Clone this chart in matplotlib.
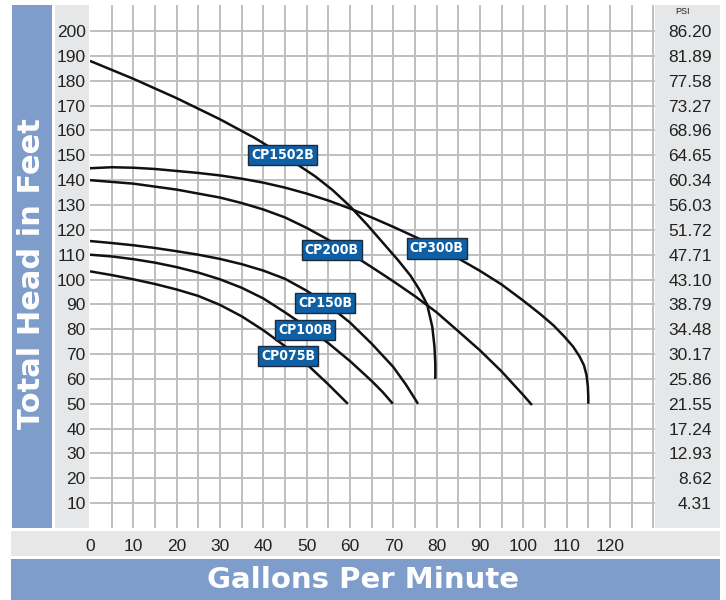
import matplotlib
matplotlib.use("Agg")
import matplotlib.pyplot as plt
from matplotlib.patches import Rectangle

# pump curves: flow (GPM) vs total head (ft)
cp1502b_gpm = [0, 10, 20, 30, 38, 46, 52, 56, 60, 64, 68, 71, 74, 76, 77.8, 79, 79.5, 79.7, 79.7]
cp1502b_ft = [188, 180.8, 173, 164.5, 157, 148.5, 141.5, 136, 129.5, 122, 114, 108, 101.5, 96, 90, 81, 73, 66, 60]

cp300b_gpm = [0, 5, 10, 15, 20, 25, 30, 35, 40, 45, 50, 55, 60, 65, 70, 75, 80, 85, 90, 95, 100,
              104, 107, 109.5, 111.5, 113, 114, 114.6, 114.9, 115, 115]
cp300b_ft = [144.8, 145.2, 145.0, 144.5, 143.7, 142.9, 141.9, 140.6, 139, 137, 134.6, 131.8, 128.6,
             125, 121.2, 117.2, 113, 108.5, 103.5, 98, 91.5, 86, 81.5, 77, 73, 69, 65.5, 61.5, 57, 53, 50]

cp200b_gpm = [0, 10, 20, 30, 35, 40, 45, 50, 55, 60, 65, 70, 75, 80, 85, 90, 95, 100, 102]
cp200b_ft = [140, 138.6, 136.2, 133, 130.8, 128.2, 125, 120.8, 116, 110.6, 105, 99.3, 93.3, 86.8,
             79.2, 71.5, 63, 53.5, 49.5]

cp150b_gpm = [0, 5, 10, 15, 20, 25, 30, 35, 40, 45, 50, 55, 60, 63, 65, 70, 73, 75.7]
cp150b_ft = [115.5, 114.7, 113.8, 112.7, 111.4, 110, 108.3, 106.2, 103.6, 100.3, 95.5, 89.7, 82.7,
             77.6, 74.2, 64.8, 57.5, 50]

cp100b_gpm = [0, 5, 10, 15, 20, 25, 30, 35, 40, 45, 50, 55, 60, 65, 67.5, 69.9]
cp100b_ft = [110, 109.3, 108.2, 106.8, 105, 102.8, 100.1, 96.7, 92.4, 86.8, 80.9, 74.4, 67.2, 59.2, 54.8, 50]

cp075b_gpm = [0, 5, 10, 15, 20, 25, 30, 35, 40, 45, 50, 55, 59.5]
cp075b_ft = [103.3, 101.8, 100.1, 98.2, 96, 93.4, 89.8, 85.2, 79.6, 73.2, 66, 57.8, 50]

pump_names = ["CP1502B", "CP300B", "CP200B", "CP150B", "CP100B", "CP075B"]

x_ticks = [0, 10, 20, 30, 40, 50, 60, 70, 80, 90, 100, 110, 120]
y_ticks = [10, 20, 30, 40, 50, 60, 70, 80, 90, 100, 110, 120, 130, 140, 150, 160, 170, 180, 190, 200]
psi_labels = ["4.31", "8.62", "12.93", "17.24", "21.55", "25.86", "30.17", "34.48", "38.79", "43.10",
              "47.71", "51.72", "56.03", "60.34", "64.65", "68.96", "73.27", "77.58", "81.89", "86.20"]

BAND = "#7f9dcb"
PANEL = "#e6e7e8"
W, H = 726, 600

fig = plt.figure(figsize=(W / 100, H / 100), dpi=100)
fig.patch.set_facecolor("white")


def box(x0, y0, x1, y1, color):
    # pixel coords measured from the top-left corner
    fig.add_artist(Rectangle((x0 / W, 1 - y1 / H), (x1 - x0) / W, (y1 - y0) / H,
                             transform=fig.transFigure, facecolor=color, edgecolor="none", zorder=0))


box(12, 5, 52, 528, BAND)
box(55, 5, 89, 528, PANEL)
box(655, 5, 720, 528, PANEL)
box(11, 531, 720, 556, PANEL)
box(11, 559, 720, 600, BAND)

ax = fig.add_axes([90 / W, 1 - 528 / H, (655 - 90) / W, (528 - 5) / H])
ax.set_xlim(0, 130.4)
ax.set_ylim(0, 210.5)
for s in ax.spines.values():
    s.set_visible(False)

# grid: every 5 GPM and every 10 ft
for gx in range(5, 131, 5):
    ax.axvline(gx, color="#bfbfbf", linewidth=1.4, zorder=1)
for gy in y_ticks:
    ax.axhline(gy, color="#bfbfbf", linewidth=1.4, zorder=1)

tick_font = dict(family=["Liberation Sans", "DejaVu Sans"], size=12.5, color="#222222")
ax.set_xticks(x_ticks)
ax.set_xticklabels([str(v) for v in x_ticks], **tick_font)
ax.set_yticks(y_ticks)
ax.set_yticklabels([str(v) for v in y_ticks], **tick_font)
ax.tick_params(which="both", length=0)
ax.tick_params(axis="x", pad=8)
ax.tick_params(axis="y", pad=3)

ax2 = ax.twinx()
ax2.set_ylim(ax.get_ylim())
for s in ax2.spines.values():
    s.set_visible(False)
ax2.set_yticks(y_ticks)
ax2.set_yticklabels(psi_labels, **tick_font)
ax2.tick_params(length=0, pad=41)
for t in ax2.get_yticklabels():
    t.set_horizontalalignment("right")

curves = [(cp1502b_gpm, cp1502b_ft), (cp300b_gpm, cp300b_ft), (cp200b_gpm, cp200b_ft),
          (cp150b_gpm, cp150b_ft), (cp100b_gpm, cp100b_ft), (cp075b_gpm, cp075b_ft)]
for gpm, ft in curves:
    ax.plot(gpm, ft, color="#111111", linewidth=1.8, solid_capstyle="butt",
            solid_joinstyle="round", zorder=3)

label_at = [(44.5, 150), (80, 112.5), (55.8, 112), (54.3, 90.5), (49.6, 79.6), (45.8, 69.4)]
for name, (lx, ly) in zip(pump_names, label_at):
    ax.text(lx, ly, name, ha="center", va="center", color="white", fontsize=10, fontweight="bold",
            family="DejaVu Sans", fontstretch="condensed", zorder=5,
            bbox=dict(boxstyle="square,pad=0.22", facecolor="#0f5fa5", edgecolor="#1b2a3f", linewidth=1))

fig.text(683 / W, 1 - 12 / H, "PSI", ha="center", va="center", fontsize=6.5, color="#222222",
         family=["Liberation Sans", "DejaVu Sans"])
fig.text(32 / W, 1 - 274 / H, "Total Head in Feet", rotation=90, ha="center", va="center",
         color="white", fontsize=22, fontweight="bold", family="DejaVu Sans")
fig.text(363 / W, 1 - 580 / H, "Gallons Per Minute", ha="center", va="center",
         color="white", fontsize=21, fontweight="bold", family="DejaVu Sans")

fig.savefig("out.png", dpi=100)
